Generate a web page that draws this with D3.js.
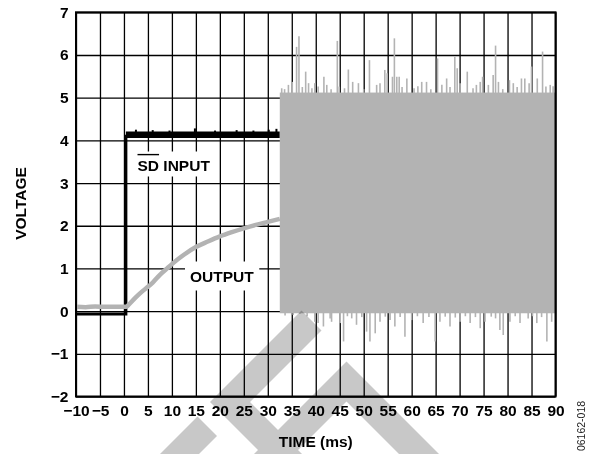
<!DOCTYPE html>
<html><head><meta charset="utf-8">
<script src="https://cdn.jsdelivr.net/npm/d3@7"></script>
<style>
html,body{margin:0;padding:0;background:#fff;}
svg{display:block;font-family:Arial,"Liberation Sans",Helvetica,sans-serif;}
</style></head><body>
<svg id="chart" width="597" height="454"></svg>
<script>
// ---------- data ----------
const xTicks = [-10,-5,0,5,10,15,20,25,30,35,40,45,50,55,60,65,70,75,80,85,90];
const yTicks = [-2,-1,0,1,2,3,4,5,6,7];

// SD input (black trace)
const sdTime = [-10, 0.4, 0.4, 32.5];
const sdVolt = [-0.07, -0.07, 4.13, 4.13];
const sdBumpTime = [2.5, 6, 9.5, 14.8, 19, 23.5, 27, 30.2, 31.8];
const sdBumpVolt = [4.25, 4.24, 4.23, 4.28, 4.23, 4.24, 4.23, 4.25, 4.27];

// Output (gray trace)
const outTime = [-10,-8,-6,-4,-2,0,0.5,1,2,3,4,5,6,7.5,9,10,12.5,15,17.5,20,22.5,25,27.5,30,32.5];
const outVolt = [0.1,0.09,0.11,0.1,0.1,0.1,0.1,0.15,0.27,0.38,0.48,0.57,0.67,0.85,1.0,1.1,1.32,1.5,1.63,1.75,1.85,1.94,2.02,2.09,2.16];

// Output oscillation after enable (dense band)
const noiseSpan = [32.5, 90];
const noiseBase = [-0.05, 5.12];
const upSpikeTime = [32.9,33.5,34.3,35.1,36.0,36.5,37.2,37.9,38.5,39.2,39.8,40.5,41.7,42.3,43.2,44.5,44.9,46.0,46.8,47.7,48.9,50.0,51.2,52.7,53.4,54.4,54.9,56.0,56.4,56.9,57.4,58.0,59.0,60.5,61.3,62.1,63.1,64.0,65.4,66.3,67.3,68.0,69.0,69.5,70.1,71.6,72.8,73.5,74.3,74.8,76.0,77.0,77.5,78.1,79.0,80.4,81.2,82.0,82.9,83.6,84.5,85.0,86.2,87.3,88.0,88.9,89.5];
const upSpikeVolt = [5.22,5.20,5.30,5.37,6.19,6.44,5.25,5.61,5.34,5.22,5.34,5.26,5.49,5.30,5.20,6.33,5.26,5.22,5.66,5.37,5.34,5.20,5.88,5.30,5.34,5.65,5.57,5.49,6.39,5.49,5.49,5.25,5.45,5.22,5.27,5.37,5.37,5.20,5.92,5.30,5.45,5.25,5.96,5.69,5.34,5.61,5.22,5.30,5.37,5.49,5.30,5.53,6.22,5.37,5.20,5.41,5.34,5.25,5.45,5.45,5.34,5.73,5.45,6.08,5.26,5.30,5.27];
const dnSpikeTime = [33.6,35.3,36.7,38.2,39.8,40.5,41.6,43.0,43.3,45.1,45.8,46.6,47.5,48.5,49.6,50.6,51.3,52.4,53.4,54.5,55.5,56.5,57.6,58.6,60.0,61.2,62.4,63.6,64.9,65.9,67.0,68.0,69.1,70.1,71.2,72.2,73.3,74.3,75.3,76.6,77.5,78.4,79.1,80.5,81.6,82.6,84.3,85.2,86.1,87.1,88.2,89.2];
const dnSpikeVolt = [-0.10,-0.09,-0.06,-0.12,-0.25,-0.28,-0.36,-0.17,-0.25,-0.28,-0.71,-0.12,-0.17,-0.32,-0.14,-0.48,-0.71,-0.52,-0.25,-0.13,-0.21,-0.36,-0.14,-0.60,-0.21,-0.12,-0.28,-0.14,-0.71,-0.25,-0.13,-0.36,-0.15,-0.25,-0.12,-0.28,-0.14,-0.40,-0.25,-0.13,-0.17,-0.44,-0.56,-0.25,-0.12,-0.28,-0.17,-0.12,-0.28,-0.14,-0.71,-0.25];

// ---------- layout ----------
const svg = d3.select("#chart");
const L = 76, R = 555.5, T = 12.3, B = 396.5;
const x = d3.scaleLinear().domain([-10, 90]).range([L, R]);
const y = d3.scaleLinear().domain([-2, 7]).range([B, T]);
const fmt = d => d < 0 ? "\u2212" + Math.abs(d) : String(d);
const FS = "15.5px";

// background watermark stripes (decorative), blended under everything
const decor = [
  [[197.5,416.5],[217,436],[199,454],[160,454]],
  [[210,402],[301.5,310.5],[321.5,330.5],[250,402],[302,454],[262,454]],
  [[254,454],[346.5,361.5],[439,454],[399,454],[346.5,401.5],[294,454]]
];

// grid + tick labels
const gx = svg.append("g").attr("transform", `translate(0,${B})`)
  .call(d3.axisBottom(x).tickValues(xTicks).tickFormat(fmt).tickSize(-(B - T)).tickPadding(8));
const gy = svg.append("g").attr("transform", `translate(${L},0)`)
  .call(d3.axisLeft(y).tickValues(yTicks).tickFormat(fmt).tickSize(-(R - L)).tickPadding(7.5));
[gx, gy].forEach(g => {
  g.select(".domain").remove();
  g.selectAll(".tick line").attr("stroke", "#000").attr("stroke-width", 1.3);
  g.selectAll(".tick text").attr("fill", "#000").attr("font-size", FS).attr("font-weight", "bold")
    .attr("font-family", "Arial,'Liberation Sans',sans-serif");
});

// labels with white boxes
function boxedLabel(tx, ty, parts, padX, padTop, padBot) {
  const g = svg.append("g");
  const rect = g.append("rect").attr("fill", "#fff");
  const t = g.append("text").attr("x", tx).attr("y", ty)
    .attr("font-size", FS).attr("font-weight", "bold").attr("fill", "#000");
  parts.forEach(p => t.append("tspan").text(p));
  const bb = t.node().getBBox();
  rect.attr("x", bb.x - padX).attr("y", bb.y - padTop).attr("width", bb.width + 2 * padX)
    .attr("height", bb.height + padTop + padBot);
  return t;
}
const sdText = boxedLabel(137.5, 170.5, ["SD", " INPUT"], 5, 5, 3);
{
  const node = sdText.node();
  const w = node.getSubStringLength(0, 2);
  svg.append("line").attr("x1", 137.5).attr("x2", 137.5 + w)
    .attr("y1", 154.6).attr("y2", 154.6).attr("stroke", "#000").attr("stroke-width", 1.4);
}
boxedLabel(190, 281.5, ["OUTPUT"], 5, 6, 6);

// SD input trace
const sdPts = sdTime.map((t, i) => [x(t), y(sdVolt[i])]);
svg.append("path").attr("d", d3.line()(sdPts.slice(0, 3)))
  .attr("fill", "none").attr("stroke", "#000").attr("stroke-width", 3);
svg.append("path").attr("d", d3.line()(sdPts.slice(2)))
  .attr("fill", "none").attr("stroke", "#000").attr("stroke-width", 6.5).attr("stroke-linecap", "butt");
svg.append("g").selectAll("line").data(sdBumpTime).join("line")
  .attr("x1", d => x(d)).attr("x2", d => x(d))
  .attr("y1", y(4.13)).attr("y2", (d, i) => y(sdBumpVolt[i]))
  .attr("stroke", "#000").attr("stroke-width", 2);

// Output trace
const outPts = outTime.map((t, i) => [x(t), y(outVolt[i])]);
svg.append("path").attr("d", d3.line().curve(d3.curveMonotoneX)(outPts))
  .attr("fill", "none").attr("stroke", "#b3b3b3").attr("stroke-width", 4.5);

// Oscillation band
const gray = "#b3b3b3";
svg.append("rect").attr("x", x(noiseSpan[0])).attr("width", x(noiseSpan[1]) - x(noiseSpan[0]))
  .attr("y", y(noiseBase[1])).attr("height", y(noiseBase[0]) - y(noiseBase[1])).attr("fill", gray);
svg.append("g").selectAll("line").data(upSpikeTime).join("line")
  .attr("x1", d => x(d)).attr("x2", d => x(d))
  .attr("y1", y(noiseBase[1]) + 1).attr("y2", (d, i) => y(upSpikeVolt[i]))
  .attr("stroke", gray).attr("stroke-width", 1.6);
svg.append("g").selectAll("line").data(dnSpikeTime).join("line")
  .attr("x1", d => x(d)).attr("x2", d => x(d))
  .attr("y1", y(noiseBase[0]) - 1).attr("y2", (d, i) => y(dnSpikeVolt[i]))
  .attr("stroke", gray).attr("stroke-width", 1.6);

// frame
svg.append("rect").attr("x", L).attr("y", T).attr("width", R - L).attr("height", B - T)
  .attr("fill", "none").attr("stroke", "#000").attr("stroke-width", 2);

// axis titles
svg.append("text").attr("transform", "translate(26,203.5) rotate(-90)").attr("text-anchor", "middle")
  .attr("font-size", FS).attr("font-weight", "bold").text("VOLTAGE");
svg.append("text").attr("x", (L + R) / 2).attr("y", 446.5).attr("text-anchor", "middle")
  .attr("font-size", FS).attr("font-weight", "bold").text("TIME (ms)");
svg.append("text").attr("transform", "translate(585,426) rotate(-90)").attr("text-anchor", "middle")
  .attr("font-size", "10.5px").attr("fill", "#222").text("06162-018");

svg.append("g").style("mix-blend-mode", "multiply").selectAll("polygon").data(decor).join("polygon")
  .attr("points", d => d.map(p => p.join(",")).join(" ")).attr("fill", "#c8c8c8");
</script>
</body></html>
